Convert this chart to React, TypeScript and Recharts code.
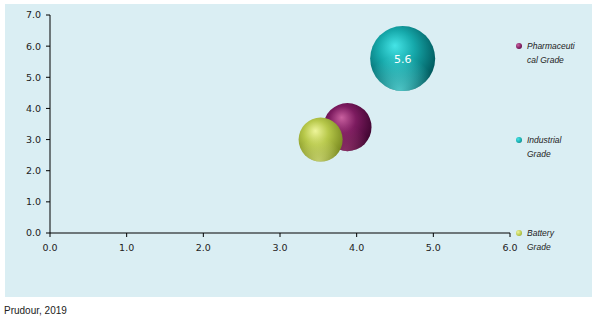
import React from "react";
import { ScatterChart, Scatter, XAxis, YAxis, ZAxis, LabelList } from "recharts";

const xTicks = [0, 1, 2, 3, 4, 5, 6];
const yTicks = [0, 1, 2, 3, 4, 5, 6, 7];

// x, y position and bubble size (z)
const pharmaceutical = [{ x: 3.88, y: 3.4, z: 4.0 }];
const industrial = [{ x: 4.6, y: 5.6, z: 7.3 }];
const battery = [{ x: 3.53, y: 3.0, z: 3.35 }];

const seriesNames = ["Pharmaceutical Grade", "Industrial Grade", "Battery Grade"];
const source = "Prudour, 2019";

const W = 592;
const H = 324;
const margin = { top: 15, right: 82, bottom: 61, left: 0 };
const plotTop = 15;
const plotBottom = 233;

const palette = [
  { id: "pharma", light: "#c9609f", base: "#7c1b5f", dark: "#3f0530", rim: "#a8407a" },
  { id: "indus", light: "#45e4e6", base: "#16a9ab", dark: "#00585c", rim: "#6ff2f2" },
  { id: "batt", light: "#eef59a", base: "#b7c84a", dark: "#7a8a20", rim: "#dfe889" },
];

const fmt = (v: number) => v.toFixed(1);
const tickStyle = { fontSize: 9.5, fill: "#222", fontFamily: "DejaVu Sans" };

function sphere(id: string) {
  return (props: any) => {
    const { cx, cy, width } = props;
    const r = width / 2;
    return (
      <g>
        <circle cx={cx} cy={cy} r={r} fill={`url(#${id}-body)`} />
        <circle cx={cx} cy={cy} r={r} fill={`url(#${id}-rim)`} />
      </g>
    );
  };
}

export default function App() {
  const datasets = [pharmaceutical, industrial, battery];
  const step = (plotBottom - plotTop - 31) / 2;
  return (
    <div style={{ position: "absolute", left: 0, top: 0, width: W, height: H, background: "#fff" }}>
      <div style={{ position: "absolute", left: 5, top: 4, width: 587, height: 293, background: "#daeef3" }} />
      <div style={{ position: "absolute", left: 0, top: 0 }}>
        <ScatterChart width={W} height={H} margin={margin}>
          <defs>
            {palette.map((p) => (
              <React.Fragment key={p.id}>
                <radialGradient id={`${p.id}-body`} cx="42%" cy="40%" r="62%" fx="38%" fy="30%">
                  <stop offset="0%" stopColor={p.light} />
                  <stop offset="45%" stopColor={p.base} />
                  <stop offset="100%" stopColor={p.dark} />
                </radialGradient>
                <radialGradient id={`${p.id}-rim`} cx="45%" cy="100%" r="55%">
                  <stop offset="0%" stopColor={p.rim} stopOpacity={0.7} />
                  <stop offset="100%" stopColor={p.rim} stopOpacity={0} />
                </radialGradient>
              </React.Fragment>
            ))}
          </defs>
          <XAxis
            type="number"
            dataKey="x"
            domain={[0, 6]}
            ticks={xTicks}
            tickFormatter={fmt}
            tick={tickStyle}
            tickSize={4}
            tickMargin={7}
            height={30}
            axisLine={{ stroke: "#000" }}
            tickLine={{ stroke: "#000" }}
            interval={0}
          />
          <YAxis
            type="number"
            dataKey="y"
            domain={[0, 7]}
            ticks={yTicks}
            tickFormatter={fmt}
            tick={tickStyle}
            tickSize={4}
            tickMargin={5}
            width={50}
            axisLine={{ stroke: "#000" }}
            tickLine={{ stroke: "#000" }}
            interval={0}
          />
          <ZAxis type="number" dataKey="z" domain={[0, 10]} range={[0, 4550]} />
          {datasets.map((d, i) => (
            <Scatter
              key={palette[i].id}
              name={seriesNames[i]}
              data={d}
              fill={palette[i].base}
              shape={sphere(palette[i].id)}
              isAnimationActive={false}
            >
              {palette[i].id === "indus" && (
                <LabelList
                  dataKey="y"
                  position="center"
                  formatter={(v: any) => fmt(Number(v))}
                  fill="#fff"
                  fontSize={11}
                  fontFamily="DejaVu Sans"
                />
              )}
            </Scatter>
          ))}
        </ScatterChart>
      </div>
      {seriesNames.map((name, i) => {
        const dotY = plotTop + 31 + i * step;
        return (
          <div
            key={name}
            style={{ position: "absolute", left: 516, top: dotY - 7, display: "flex", alignItems: "flex-start" }}
          >
            <div
              style={{
                width: 6,
                height: 6,
                borderRadius: 3,
                marginTop: 4,
                marginRight: 5,
                background: `radial-gradient(circle at 35% 35%, ${palette[i].light}, ${palette[i].base} 60%, ${palette[i].dark})`,
              }}
            />
            <div
              style={{
                width: 49,
                fontFamily: "Liberation Sans",
                fontStyle: "italic",
                fontSize: 8.5,
                lineHeight: "14px",
                color: "#222",
                overflowWrap: "anywhere",
              }}
            >
              {name}
            </div>
          </div>
        );
      })}
      <div
        style={{
          position: "absolute",
          left: 4,
          top: 305,
          fontFamily: "Liberation Sans",
          fontSize: 10,
          color: "#222",
        }}
      >
        {source}
      </div>
    </div>
  );
}
